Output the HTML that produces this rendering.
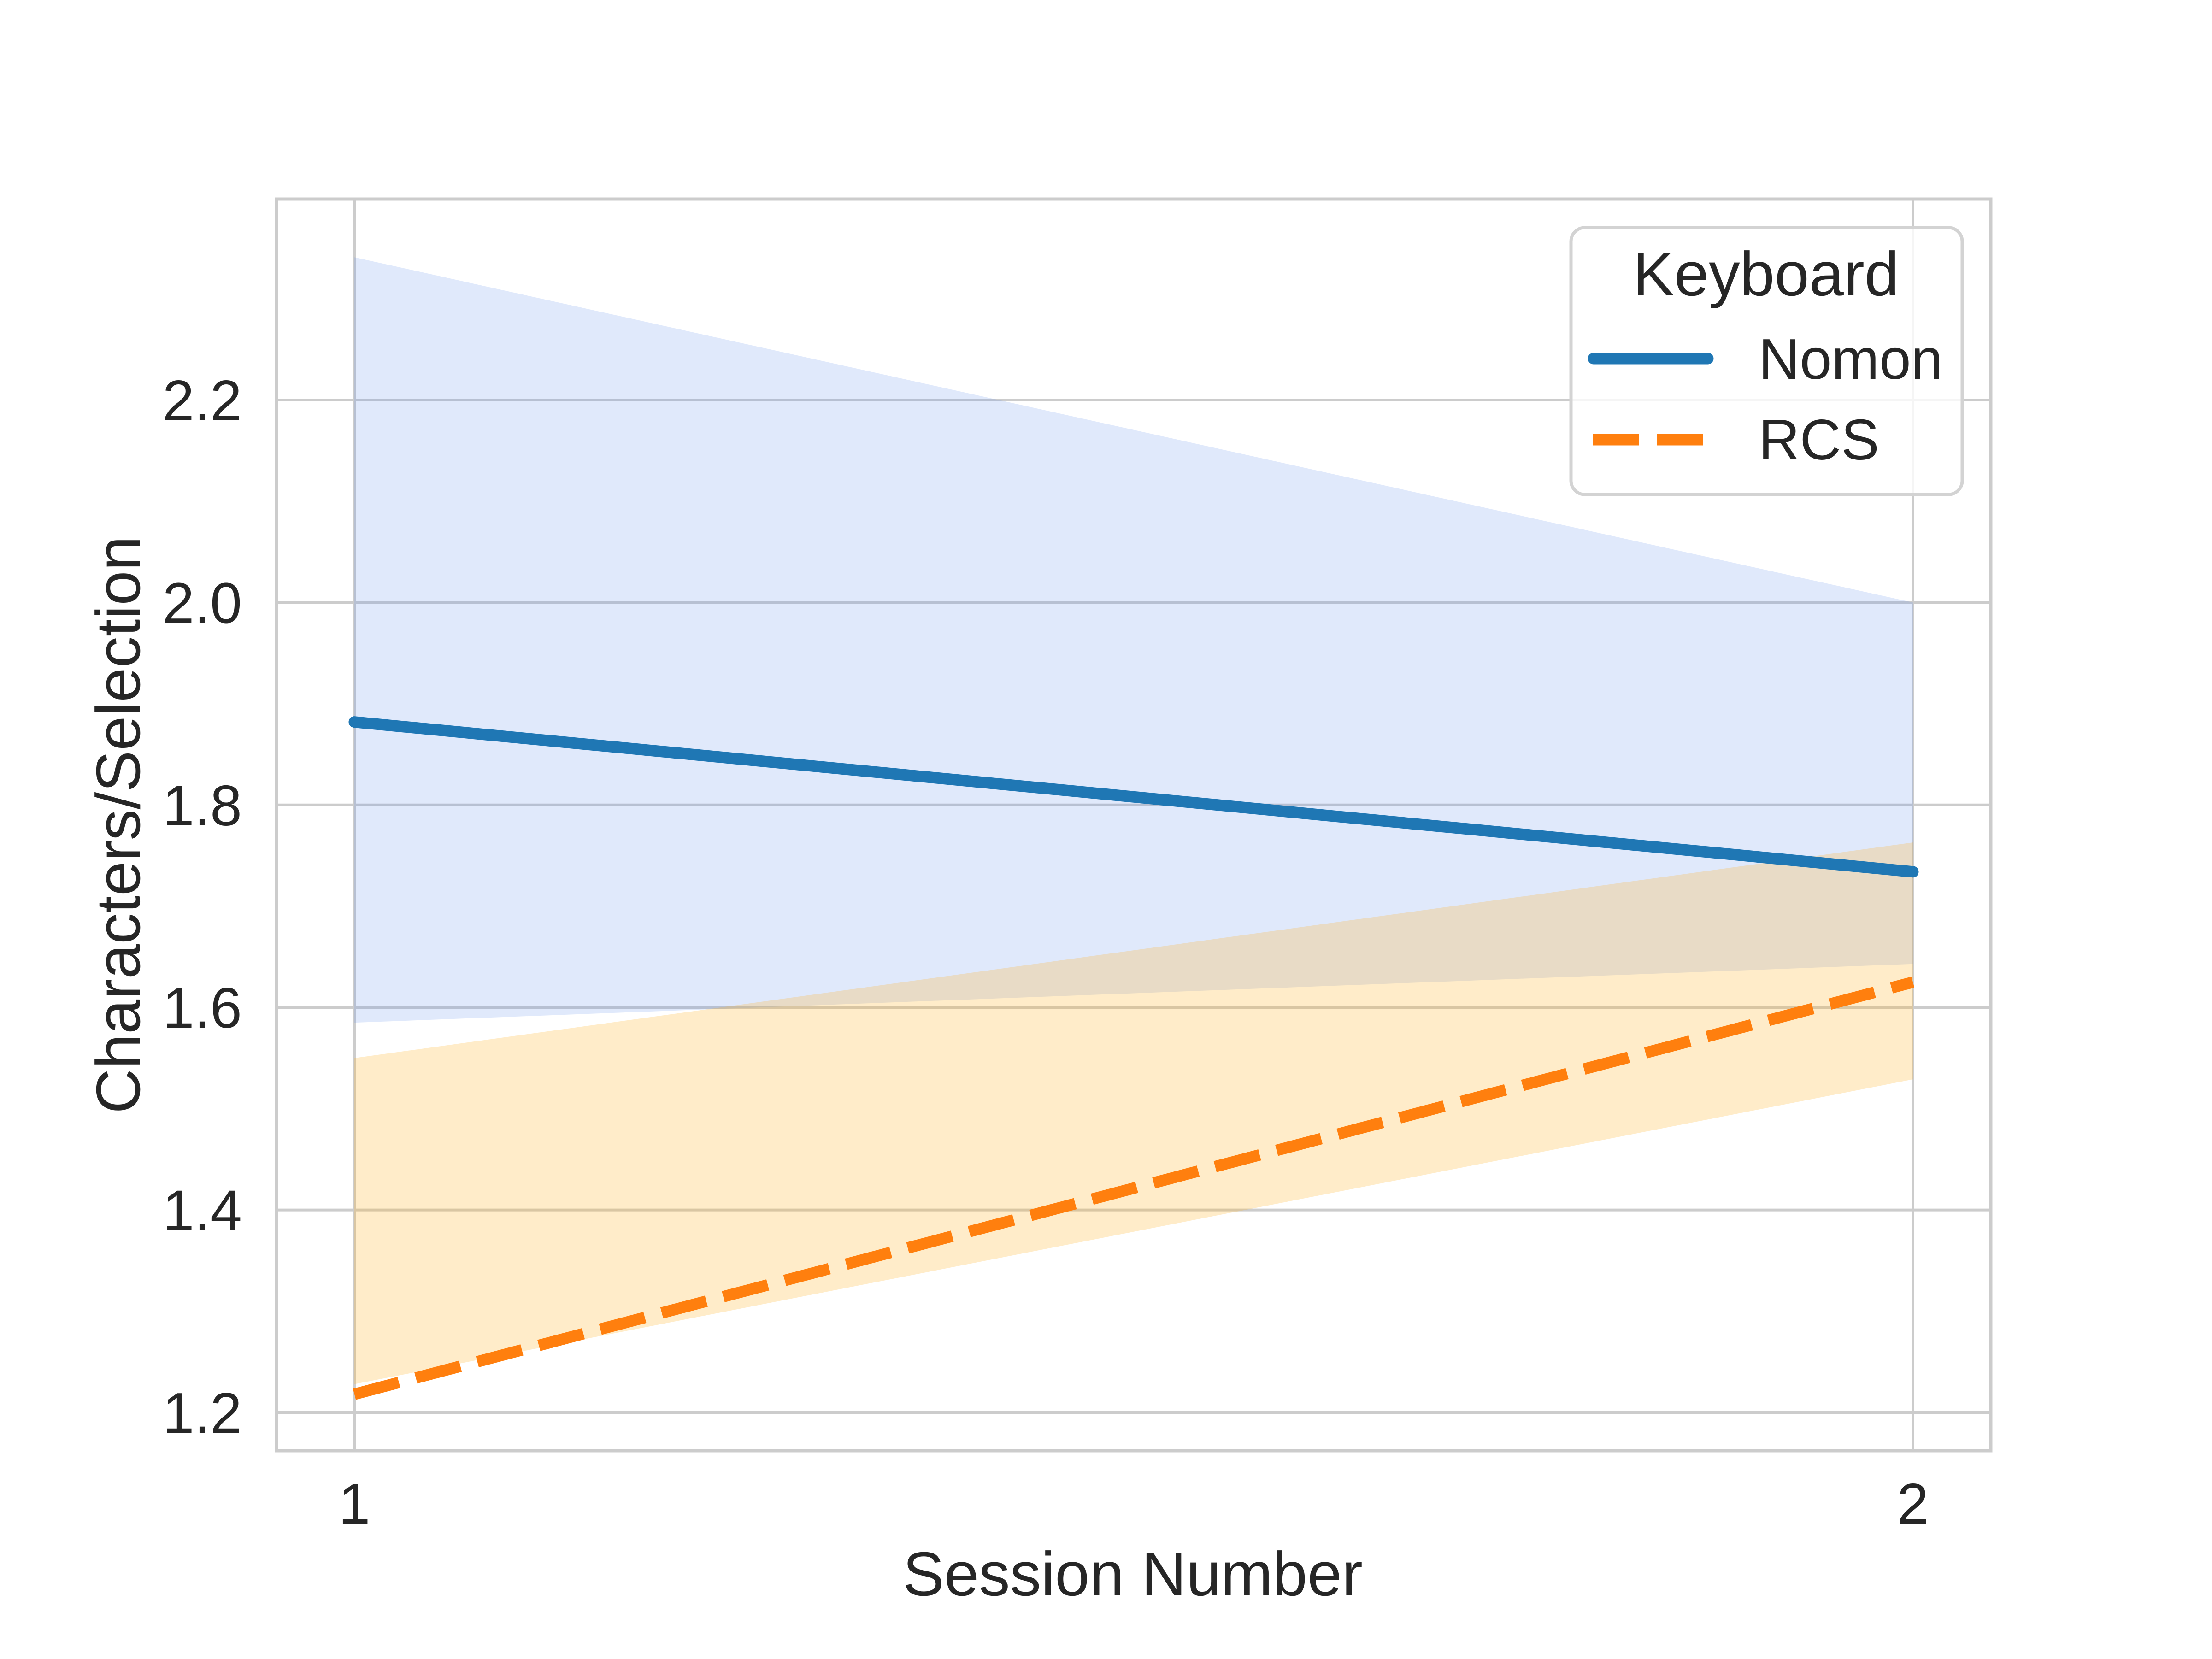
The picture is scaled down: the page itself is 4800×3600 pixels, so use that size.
<!DOCTYPE html>
<html><head><meta charset="utf-8"><style>
html,body{margin:0;padding:0;background:#fff;}
svg{display:block;}
text{font-family:"Liberation Sans",Arial,sans-serif;fill:#262626;}
</style></head><body>
<svg id="chart" width="4800" height="3600" viewBox="0 0 4800 3600" xmlns="http://www.w3.org/2000/svg">
<rect x="0" y="0" width="4800" height="3600" fill="#fff"/>
<g id="grid"></g>
<g id="bands"></g>
<g id="lines"></g>
<rect x="600" y="432" width="3720" height="2716" fill="none" stroke="#cccccc" stroke-width="7"/>
<g id="ticks"></g>
<text x="2458" y="3462" font-size="135" text-anchor="middle">Session Number</text>
<text transform="translate(303,1790) rotate(-90)" font-size="135" text-anchor="middle">Characters/Selection</text>
<g>
<rect x="3409" y="494" width="849" height="579" rx="30" fill="#fff" fill-opacity="0.8" stroke="#d3d3d3" stroke-width="7"/>
<text x="3832" y="641" font-size="135" text-anchor="middle">Keyboard</text>
<line x1="3458" y1="778" x2="3706" y2="778" stroke="#1f77b4" stroke-width="25" stroke-linecap="round"/>
<text x="3816" y="822" font-size="124">Nomon</text>
<line x1="3457" y1="954" x2="3695" y2="954" stroke="#ff7f0e" stroke-width="25" stroke-dasharray="100 38"/>
<text x="3816" y="997" font-size="124">RCS</text>
</g>
</svg>
<script>
const sessions = [1, 2];
const nomonMean = [1.882, 1.734];
const nomonLow = [1.585, 1.643];
const nomonHigh = [2.341, 2.0];
const rcsMean = [1.218, 1.625];
const rcsLow = [1.228, 1.529];
const rcsHigh = [1.55, 1.763];
const yTicks = [1.2, 1.4, 1.6, 1.8, 2.0, 2.2];
const yTickLabels = ["1.2", "1.4", "1.6", "1.8", "2.0", "2.2"];
const xTicks = [1, 2];
const xTickLabels = ["1", "2"];

const NS = "http://www.w3.org/2000/svg";
function xs(v){ return 769 + (v - 1) * (4151 - 769); }
function ys(v){ return 3065 - (v - 1.2) * (3065 - 868) / 1.0; }
function mk(tag, attrs, parent){
  const e = document.createElementNS(NS, tag);
  for (const k in attrs) e.setAttribute(k, attrs[k]);
  parent.appendChild(e);
  return e;
}
const grid = document.getElementById('grid');
const ticks = document.getElementById('ticks');
yTicks.forEach((t, i) => {
  const l = mk('line', {x1: 600, x2: 4320, y1: ys(t), y2: ys(t), stroke: '#cccccc', 'stroke-width': 6}, grid);
  
  
  const tx = mk('text', {x: 525, y: ys(t) + 44, 'font-size': 124, 'text-anchor': 'end'}, ticks);
  tx.textContent = yTickLabels[i];
  
  
});
xTicks.forEach((t, i) => {
  const l = mk('line', {x1: xs(t), x2: xs(t), y1: 432, y2: 3148, stroke: '#cccccc', 'stroke-width': 6}, grid);
  
  
  const tx = mk('text', {x: xs(t), y: 3306, 'font-size': 124, 'text-anchor': 'middle'}, ticks);
  tx.textContent = xTickLabels[i];
  
  
});
function bandPts(lo, hi){
  const top = sessions.map((s, i) => xs(s) + ',' + ys(hi[i]));
  const bot = sessions.map((s, i) => xs(s) + ',' + ys(lo[i])).reverse();
  return top.concat(bot).join(' ');
}
const bands = document.getElementById('bands');
const b1 = mk('polygon', {points: bandPts(nomonLow, nomonHigh), fill: 'rgb(99,143,235)', 'fill-opacity': 0.2}, bands);


const b2 = mk('polygon', {points: bandPts(rcsLow, rcsHigh), fill: 'rgb(255,180,40)', 'fill-opacity': 0.25}, bands);


const lines = document.getElementById('lines');
function linePts(m){ return sessions.map((s, i) => xs(s) + ',' + ys(m[i])).join(' '); }
const l1 = mk('polyline', {points: linePts(nomonMean), fill: 'none', stroke: '#1f77b4', 'stroke-width': 25, 'stroke-linecap': 'round'}, lines);


const l2 = mk('polyline', {points: linePts(rcsMean), fill: 'none', stroke: '#ff7f0e', 'stroke-width': 25, 'stroke-dasharray': '100 38'}, lines);


</script>
</body></html>
